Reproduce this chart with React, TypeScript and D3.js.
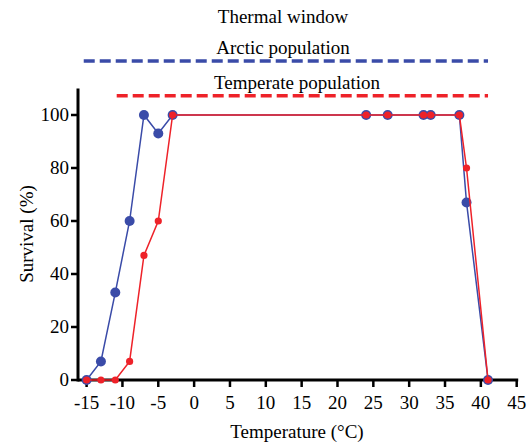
import React, { useRef, useEffect } from 'react';
import * as d3 from 'd3';

// temperatures (°C) and survival (%)
const arcticTemps = [-15, -13, -11, -9, -7, -5, -3, 24, 27, 32, 33, 37, 38, 41];
const arcticSurvival = [0, 7, 33, 60, 100, 93, 100, 100, 100, 100, 100, 100, 67, 0];
const temperateTemps = [-15, -13, -11, -9, -7, -5, -3, 24, 27, 32, 33, 37, 38, 41];
const temperateSurvival = [0, 0, 0, 7, 47, 60, 100, 100, 100, 100, 100, 100, 80, 0];

// thermal windows: [from, to, level drawn above the plot]
const arcticWindow = [-15.4, 41];
const temperateWindow = [-10.8, 41];
const windowLevels = [120.4, 107.3];

const xTicks = [-15, -10, -5, 0, 5, 10, 15, 20, 25, 30, 35, 40, 45];
const yTicks = [0, 20, 40, 60, 80, 100];

const BLUE = '#3a4ba8';
const RED = '#ee2229';
const FONT = '"Liberation Serif", "Times New Roman", serif';

const App = () => {
  const svgRef = useRef<SVGSVGElement>(null);

  useEffect(() => {
    const svg = d3.select(svgRef.current);
    svg.selectAll('*').remove();

    const x = d3.scaleLinear().domain([-15, 45]).range([86.6, 516.7]);
    const y = d3.scaleLinear().domain([0, 100]).range([380, 115]);

    // dashed thermal window lines + labels
    const windows = [
      { w: arcticWindow, level: windowLevels[0], color: BLUE, label: 'Arctic population', cx: 283 },
      { w: temperateWindow, level: windowLevels[1], color: RED, label: 'Temperate population', cx: 297 },
    ];
    windows.forEach(d => {
      svg.append('line')
        .attr('x1', x(d.w[0])).attr('x2', x(d.w[1]))
        .attr('y1', y(d.level)).attr('y2', y(d.level))
        .attr('stroke', d.color)
        .attr('stroke-width', 3.5)
        .attr('stroke-dasharray', '11,5');
      svg.append('text')
        .attr('x', d.cx).attr('y', y(d.level) - 7)
        .attr('text-anchor', 'middle')
        .style('font-family', FONT).style('font-size', '19px')
        .text(d.label);
    });

    svg.append('text')
      .attr('x', 283).attr('y', 23)
      .attr('text-anchor', 'middle')
      .style('font-family', FONT).style('font-size', '19px')
      .text('Thermal window');

    // axes
    const axisX0 = 78;
    svg.append('line')
      .attr('x1', axisX0).attr('x2', x(45) + 1.5)
      .attr('y1', y(0)).attr('y2', y(0))
      .attr('stroke', '#000').attr('stroke-width', 3);
    svg.append('line')
      .attr('x1', axisX0).attr('x2', axisX0)
      .attr('y1', y(0) + 1.5).attr('y2', y(110))
      .attr('stroke', '#000').attr('stroke-width', 3);

    xTicks.forEach(t => {
      svg.append('line')
        .attr('x1', x(t)).attr('x2', x(t))
        .attr('y1', y(0)).attr('y2', y(0) + 7)
        .attr('stroke', '#000').attr('stroke-width', 2.5);
      svg.append('text')
        .attr('x', x(t)).attr('y', 409)
        .attr('text-anchor', 'middle')
        .style('font-family', FONT).style('font-size', '19px')
        .text(t);
    });

    yTicks.forEach(t => {
      svg.append('line')
        .attr('x1', axisX0 - 7).attr('x2', axisX0)
        .attr('y1', y(t)).attr('y2', y(t))
        .attr('stroke', '#000').attr('stroke-width', 2.5);
      svg.append('text')
        .attr('x', axisX0 - 9).attr('y', y(t))
        .attr('dy', '0.34em')
        .attr('text-anchor', 'end')
        .style('font-family', FONT).style('font-size', '19px')
        .text(t);
    });

    svg.append('text')
      .attr('x', 297).attr('y', 438)
      .attr('text-anchor', 'middle')
      .style('font-family', FONT).style('font-size', '19px')
      .text('Temperature (°C)');

    svg.append('text')
      .attr('transform', 'translate(33, 234) rotate(-90)')
      .attr('text-anchor', 'middle')
      .style('font-family', FONT).style('font-size', '19px')
      .text('Survival (%)');

    // series
    const series = [
      { t: arcticTemps, v: arcticSurvival, color: BLUE, r: 5 },
      { t: temperateTemps, v: temperateSurvival, color: RED, r: 3.6 },
    ];
    const line = d3.line<[number, number]>().x(d => x(d[0])).y(d => y(d[1]));
    series.forEach(s => {
      const pts: [number, number][] = s.t.map((t, i) => [t, s.v[i]]);
      svg.append('path')
        .attr('d', line(pts))
        .attr('fill', 'none')
        .attr('stroke', s.color)
        .attr('stroke-width', 1.5);
      svg.selectAll(null)
        .data(pts)
        .enter()
        .append('circle')
        .attr('cx', d => x(d[0]))
        .attr('cy', d => y(d[1]))
        .attr('r', s.r)
        .attr('fill', s.color);
    });
  }, []);

  return (
    <svg
      ref={svgRef}
      width={532}
      height={448}
      style={{ position: 'absolute', left: 0, top: 0, background: '#fff' }}
    />
  );
};

export default App;
